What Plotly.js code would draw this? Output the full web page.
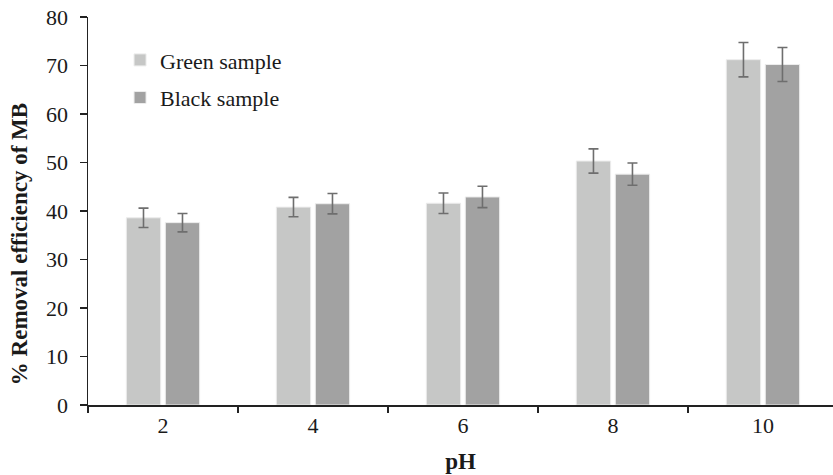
<!DOCTYPE html>
<html>
<head>
<meta charset="utf-8">
<script src="https://cdn.plot.ly/plotly-3.0.1.min.js"></script>
<style>html,body{margin:0;padding:0;background:#fff;}#chart{width:833px;height:475px;}</style>
</head>
<body>
<div id="chart"></div>
<script>
const categories = ['2', '4', '6', '8', '10'];
const greenValues = [38.6, 40.8, 41.6, 50.3, 71.2];
const greenErrors = [2.0, 2.0, 2.1, 2.5, 3.55];
const blackValues = [37.6, 41.5, 42.9, 47.6, 70.2];
const blackErrors = [1.9, 2.1, 2.2, 2.3, 3.5];
const seriesNames = ['Green sample', 'Black sample'];
const yTitle = '% Removal efficiency of MB';
const xTitle = 'pH';

const errStyle = {type: 'data', visible: true, color: '#6e6e6e', thickness: 1.6, width: 5};
const traces = [
  {type: 'bar', name: seriesNames[0], x: categories, y: greenValues, legendgroup: 'g',
   error_y: Object.assign({array: greenErrors}, errStyle),
   marker: {color: '#c6c7c6', line: {color: '#ececec', width: 1}}},
  {type: 'bar', name: seriesNames[1], x: categories, y: blackValues, legendgroup: 'b',
   error_y: Object.assign({array: blackErrors}, errStyle),
   marker: {color: '#a2a2a2', line: {color: '#ececec', width: 1}}}
];

const fam = '"Liberation Serif", "Times New Roman", serif';
const font = {family: fam, size: 22, color: '#1a1a1a'};
const titleFont = {family: fam, size: 23, color: '#1a1a1a'};
const layout = {
  width: 833, height: 475,
  margin: {l: 88, r: 0, t: 17, b: 70},
  paper_bgcolor: '#fff', plot_bgcolor: '#fff',
  font: font,
  barmode: 'group', bargap: 0.48, bargroupgap: 0.12,
  showlegend: true,
  legend: {x: 0.043, y: 0.943, xanchor: 'left', yanchor: 'top', bgcolor: 'rgba(0,0,0,0)',
           traceorder: 'grouped', tracegroupgap: 6, font: font, itemwidth: 30},
  xaxis: {type: 'category', range: [-0.5, 4.467], showline: true, linecolor: '#222', linewidth: 1.5,
          ticks: 'outside', tickson: 'boundaries', ticklen: 6, tickcolor: '#222', tickwidth: 1.5,
          showgrid: false, zeroline: false, tickfont: font,
          title: {text: '<b>' + xTitle + '</b>', font: titleFont, standoff: 16}},
  yaxis: {range: [0, 80], dtick: 10, showline: true, linecolor: '#222', linewidth: 1.5,
          ticks: 'outside', ticklen: 7, tickcolor: '#222', tickwidth: 1.5, ticklabelstandoff: 7,
          showgrid: false, zeroline: false, tickfont: font},
  annotations: [{text: '<b>' + yTitle + '</b>', textangle: -90, font: titleFont, showarrow: false,
                 xref: 'paper', yref: 'paper', x: -0.091, y: 0.415, xanchor: 'center', yanchor: 'middle'}]
};
Plotly.newPlot('chart', traces, layout, {displayModeBar: false, staticPlot: true});
</script>
</body>
</html>
